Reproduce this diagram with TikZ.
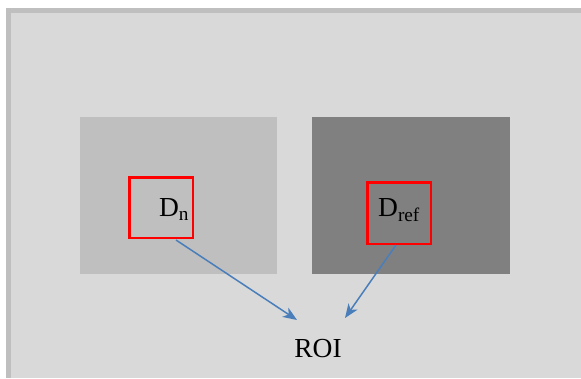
\documentclass[tikz,border=0pt]{standalone}
\usepackage{fontspec}
\setmainfont{Liberation Serif}
\usetikzlibrary{arrows.meta}
\definecolor{frameline}{HTML}{BFBFBF}
\definecolor{framefill}{HTML}{D9D9D9}
\definecolor{lightpanel}{HTML}{BFBFBF}
\definecolor{darkpanel}{HTML}{808080}
\definecolor{arrowblue}{HTML}{4A7EBB}
\tikzset{
  redbox/.style={draw=red,line width=2.4pt},
  label/.style={font=\fontsize{27.5}{30}\selectfont,inner sep=0pt,anchor=base},
  roiarrow/.style={draw=arrowblue,line width=1.5pt,-{Stealth[length=14pt,width=11pt,inset=4pt]}}
}
\begin{document}
\begin{tikzpicture}[x=1pt,y=-1pt]
  \useasboundingbox (0,0) rectangle (581,378);
  % background frame
  \fill[frameline] (6,8) rectangle (581,378);
  \fill[framefill] (11,13) rectangle (581,378);
  % panels
  \fill[lightpanel] (80,117) rectangle (277,274);
  \fill[darkpanel] (312,117) rectangle (510,274);
  % windows
  \draw[redbox] (129.5,177.5) rectangle (193,238);
  \draw[redbox] (367.5,182.5) rectangle (431,244);
  \node[label] (dn) at (174,216.5) {D\textsubscript{n}};
  \node[label] (dref) at (399,216.5) {D\textsubscript{ref}};
  \node[label] (roi) at (318,357) {ROI};
  \coordinate (nstart) at (176,240);
  \coordinate (rstart) at (396,245);
  \coordinate (nend) at (297,320);
  \coordinate (rend) at (345,318);
  \draw[roiarrow] (nstart) -- (nend);
  \draw[roiarrow] (rstart) -- (rend);
\end{tikzpicture}
\end{document}
